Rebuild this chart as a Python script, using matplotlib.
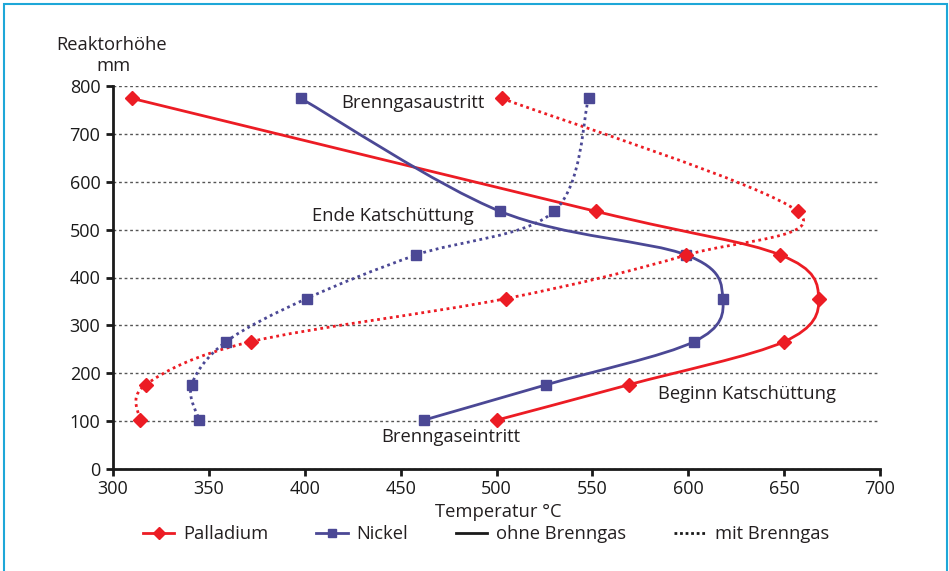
import matplotlib
matplotlib.use("Agg")
import matplotlib.pyplot as plt
from matplotlib.path import Path
from matplotlib.patches import PathPatch, Rectangle
from matplotlib.lines import Line2D
import numpy as np

plt.rcParams['font.family'] = ['Open Sans', 'DejaVu Sans']

# reactor heights (mm) of the measuring points
hoehe = [774, 538, 447, 356, 266, 176, 102]

# temperatures in °C
pd_ohne = [310, 552, 648, 668, 650, 569, 500]
ni_ohne = [398, 502, 599, 618, 603, 526, 462]
pd_mit = [503, 657, 599, 505, 372, 317, 314]
ni_mit = [548, 530, 458, 401, 359, 341, 345]

RED = '#ec1c24'
BLUE = '#4b4895'
TXT = '#231f20'
FS = 13.2


def smooth_path(x, y):
    # Catmull-Rom style cubic Bezier through the points
    p = np.column_stack([x, y]).astype(float)
    n = len(p)
    verts = [p[0]]
    codes = [Path.MOVETO]
    for i in range(n - 1):
        p0 = p[i - 1] if i > 0 else p[i]
        p1, p2 = p[i], p[i + 1]
        p3 = p[i + 2] if i + 2 < n else p[i + 1]
        c1 = p1 + (p2 - p0) / 6.0
        c2 = p2 - (p3 - p1) / 6.0
        verts += [c1, c2, p2]
        codes += [Path.CURVE4] * 3
    return Path(verts, codes)


fig = plt.figure(figsize=(9.49, 5.71), dpi=100)
ax = fig.add_axes([113 / 949, 1 - 469 / 571, 767 / 949, 383 / 571])

series = [
    (pd_ohne, RED, 'D', '-', 7.5),
    (ni_ohne, BLUE, 's', '-', 7),
    (pd_mit, RED, 'D', (0, (1, 1.3)), 7.5),
    (ni_mit, BLUE, 's', (0, (1, 1.3)), 7),
]
for temps, col, mk, ls, ms in series:
    patch = PathPatch(smooth_path(temps, hoehe), facecolor='none', edgecolor=col,
                      linewidth=2.0, linestyle=ls, zorder=3)
    ax.add_patch(patch)
    ax.plot(temps, hoehe, linestyle='none', marker=mk, color=col,
            markersize=ms, zorder=4)

ax.set_xlim(300, 700)
ax.set_ylim(0, 800)
ax.set_xticks(range(300, 701, 50))
ax.set_yticks(range(0, 801, 100))
ax.yaxis.grid(True, linestyle=(0, (2, 2)), color='#555555', linewidth=1.0)
ax.set_axisbelow(True)
for s in ['top', 'right']:
    ax.spines[s].set_visible(False)
for s in ['left', 'bottom']:
    ax.spines[s].set_linewidth(2.0)
    ax.spines[s].set_color('#1a1a1a')
ax.tick_params(direction='out', length=5, width=2, labelsize=13,
               colors='#1a1a1a', pad=3)
ax.tick_params(axis='y', pad=4)

ax.text(419, 764, 'Brenngasaustritt', fontsize=FS, color=TXT, va='center')
ax.text(404, 528, 'Ende Katschüttung', fontsize=FS, color=TXT, va='center')
ax.text(584, 157, 'Beginn Katschüttung', fontsize=FS, color=TXT, va='center')
ax.text(440, 67, 'Brenngaseintritt', fontsize=FS, color=TXT, va='center')

fig.text(112 / 949, 1 - 45 / 571, 'Reaktorhöhe', fontsize=FS, color=TXT,
         ha='center', va='center')
fig.text(113 / 949, 1 - 66 / 571, 'mm', fontsize=FS, color=TXT,
         ha='center', va='center')
fig.text(498 / 949, 1 - 512 / 571, 'Temperatur °C', fontsize=FS, color=TXT,
         ha='center', va='center')

handles = [
    Line2D([], [], color=RED, marker='D', markersize=6, linewidth=2),
    Line2D([], [], color=BLUE, marker='s', markersize=6, linewidth=2),
    Line2D([], [], color='#1a1a1a', linewidth=2),
    Line2D([], [], color='#1a1a1a', linewidth=2, linestyle=(0, (1, 1))),
]
labels = ['Palladium', 'Nickel', 'ohne Brenngas', 'mit Brenngas']
fig.legend(handles, labels, loc='center', ncol=4,
           bbox_to_anchor=(486 / 949, 1 - 534 / 571), frameon=False,
           fontsize=FS, handlelength=1.7, handletextpad=0.5,
           columnspacing=2.6, labelcolor=TXT)

# light blue frame around the figure
fig.patches.append(Rectangle((4 / 949, -0.05), 943 / 949, 1.05 - 4 / 571,
                             transform=fig.transFigure, fill=False,
                             edgecolor='#1ea7d8', linewidth=1.5))

fig.savefig('out.png', dpi=100)
